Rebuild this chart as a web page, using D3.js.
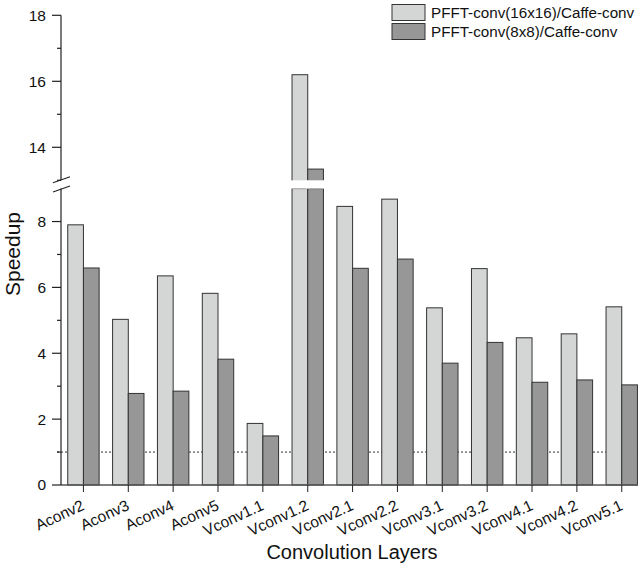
<!DOCTYPE html>
<html>
<head>
<meta charset="utf-8">
<script src="https://cdn.jsdelivr.net/npm/d3@7"></script>
<style>
  body { margin: 0; background: #fff; }
  svg { display: block; font-family: "Liberation Sans", Arial, sans-serif; }
</style>
</head>
<body>
<svg id="chart" width="638" height="568"></svg>
<script>
// Convolution layers and speedups over Caffe-conv
const layers = ["Aconv2", "Aconv3", "Aconv4", "Aconv5", "Vconv1.1", "Vconv1.2", "Vconv2.1",
                "Vconv2.2", "Vconv3.1", "Vconv3.2", "Vconv4.1", "Vconv4.2", "Vconv5.1"];
const speedup16 = [7.90, 5.03, 6.35, 5.82, 1.87, 16.2, 8.46, 8.68, 5.38, 6.57, 4.47, 4.59, 5.41];
const speedup8  = [6.59, 2.78, 2.85, 3.82, 1.49, 13.34, 6.58, 6.86, 3.70, 4.33, 3.12, 3.19, 3.04];
const seriesNames = ["PFFT-conv(16x16)/Caffe-conv", "PFFT-conv(8x8)/Caffe-conv"];
const lowTicks = [0, 2, 4, 6, 8];
const lowMinor = [1, 3, 5, 7];
const highTicks = [14, 16, 18];
const highMinor = [13, 15, 17];
const baseline = 1;

const colors = ["#d4d6d6", "#979797"];
const svg = d3.select("#chart");

const axisX = 61;
// broken y axis: lower segment 0..9, upper segment 13..18
const yLow = d3.scaleLinear().domain([0, 9]).range([485, 188.6]);
const yHigh = d3.scaleLinear().domain([13, 18]).range([180.3, 15.3]);

const x = d3.scaleBand().domain(layers).range([axisX, axisX + 13 * 44.86]).paddingInner(0.3).paddingOuter(0.15);
const xs = d3.scaleBand().domain([0, 1]).range([0, x.bandwidth()]);

// reference line at speedup = 1
svg.append("line")
  .attr("x1", axisX - 4).attr("x2", 638)
  .attr("y1", yLow(baseline)).attr("y2", yLow(baseline))
  .attr("stroke", "#333").attr("stroke-width", 1).attr("stroke-dasharray", "2,2");

const series = [speedup16, speedup8];
series.forEach((vals, s) => {
  const g = svg.append("g");
  layers.forEach((name, i) => {
    const v = vals[i];
    const bx = x(name) + xs(s);
    const bw = xs.bandwidth();
    g.append("rect")
      .attr("x", bx).attr("width", bw)
      .attr("y", yLow(Math.min(v, 9))).attr("height", yLow(0) - yLow(Math.min(v, 9)))
      .attr("fill", colors[s]).attr("stroke", "#333").attr("stroke-width", 1);
    if (v > 13) {
      g.append("rect")
        .attr("x", bx).attr("width", bw)
        .attr("y", yHigh(v)).attr("height", yHigh(13) - yHigh(v) + 2)
        .attr("fill", colors[s]).attr("stroke", "#333").attr("stroke-width", 1);
      // white gap marking the axis break
      svg.append("rect")
        .attr("x", bx - 1.5).attr("width", bw + 3)
        .attr("y", yHigh(13)).attr("height", yLow(9) - yHigh(13))
        .attr("fill", "#fff");
    }
  });
});

// x axis
const xAxis = svg.append("g").attr("transform", `translate(0,${yLow(0)})`);
xAxis.append("line").attr("x1", axisX).attr("x2", 638).attr("y1", 0).attr("y2", 0)
  .attr("stroke", "#555").attr("stroke-width", 1.5);
layers.forEach(name => {
  const cx = x(name) + x.bandwidth() / 2;
  xAxis.append("line").attr("x1", cx).attr("x2", cx).attr("y1", 0).attr("y2", 7)
    .attr("stroke", "#222").attr("stroke-width", 1);
  xAxis.append("text")
    .attr("transform", `translate(${cx + 2},${24}) rotate(-25)`)
    .attr("text-anchor", "end")
    .attr("font-size", 15.5)
    .attr("fill", "#111")
    .text(name);
});

// y axis segments
function ySegment(scale, ticks, minor) {
  const [a, b] = scale.range();
  const g = svg.append("g");
  g.append("line").attr("x1", axisX).attr("x2", axisX).attr("y1", a).attr("y2", b)
    .attr("stroke", "#222").attr("stroke-width", 1.2);
  ticks.forEach(t => {
    g.append("line").attr("x1", axisX - 9).attr("x2", axisX).attr("y1", scale(t)).attr("y2", scale(t))
      .attr("stroke", "#222").attr("stroke-width", 1.2);
    g.append("text").attr("x", axisX - 15).attr("y", scale(t)).attr("dy", "0.35em")
      .attr("text-anchor", "end").attr("font-size", 15.5).attr("fill", "#111").text(t);
  });
  minor.forEach(t => {
    g.append("line").attr("x1", axisX - 4).attr("x2", axisX).attr("y1", scale(t)).attr("y2", scale(t))
      .attr("stroke", "#222").attr("stroke-width", 1.2);
  });
}
ySegment(yLow, lowTicks, lowMinor);
ySegment(yHigh, highTicks, highMinor);

// break marks on the y axis
[[yHigh(13) + 2.5, yHigh(13) - 3.5], [yLow(9) + 3.5, yLow(9) - 2.5]].forEach(([y1, y2]) => {
  svg.append("line").attr("x1", axisX - 8).attr("x2", axisX + 9).attr("y1", y1).attr("y2", y2)
    .attr("stroke", "#222").attr("stroke-width", 1.1);
});

// axis titles
svg.append("text").attr("transform", `translate(20,254) rotate(-90)`)
  .attr("text-anchor", "middle").attr("font-size", 21).attr("fill", "#111").text("Speedup");
svg.append("text").attr("x", 352).attr("y", 559)
  .attr("text-anchor", "middle").attr("font-size", 20).attr("fill", "#111").text("Convolution Layers");

// legend
const legend = svg.append("g");
seriesNames.forEach((name, s) => {
  const ly = 4.5 + s * 19;
  legend.append("rect").attr("x", 392).attr("y", ly).attr("width", 33).attr("height", 16)
    .attr("fill", colors[s]).attr("stroke", "#333").attr("stroke-width", 1);
  legend.append("text").attr("x", 431).attr("y", ly + 8).attr("dy", "0.35em")
    .attr("font-size", 15.2).attr("fill", "#111").text(name);
});
</script>
</body>
</html>
